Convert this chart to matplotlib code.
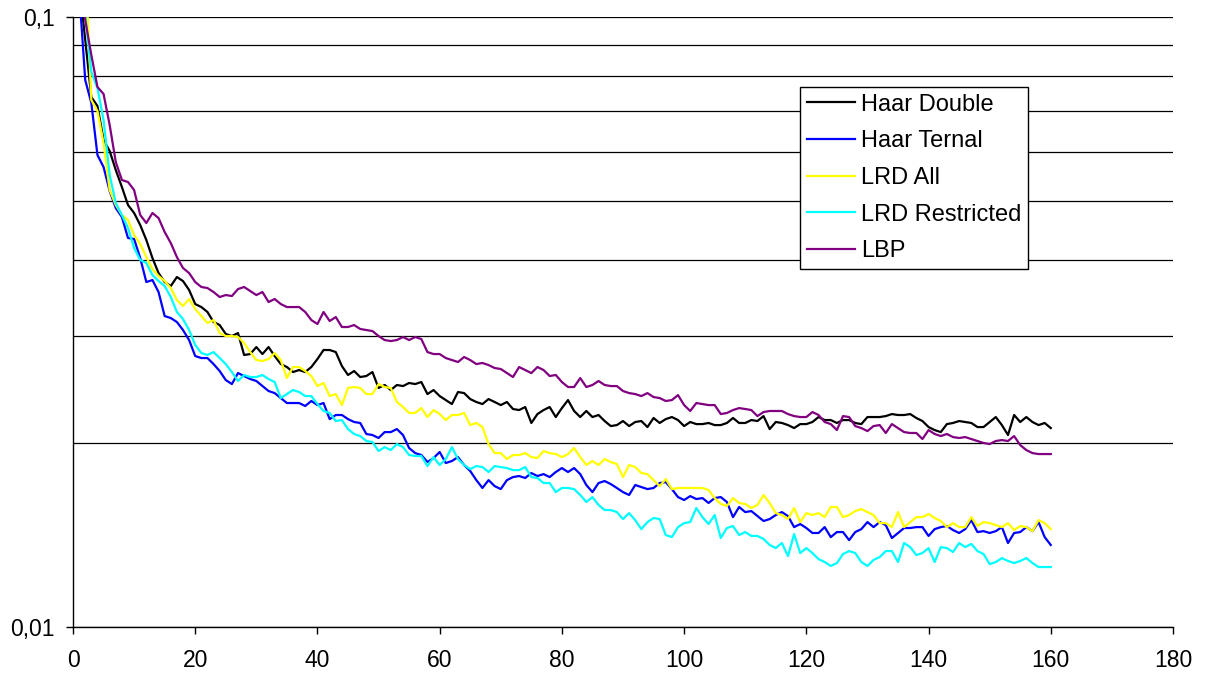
import numpy as np
import matplotlib
matplotlib.use("Agg")
import matplotlib.pyplot as plt
from matplotlib.ticker import FixedLocator, FixedFormatter, LogLocator, NullFormatter

plt.rcParams["font.family"] = ["Liberation Sans", "DejaVu Sans"]

steps = np.arange(1, 161)

haar_double = [
    0.1137, 0.09168, 0.07393, 0.07146, 0.06286, 0.06030, 0.05612, 0.05264, 0.04918, 0.04772,
    0.04560, 0.04309, 0.04026, 0.03804, 0.03677, 0.03622, 0.03747, 0.03691, 0.03568, 0.03384,
    0.03346, 0.03284, 0.03162, 0.03126, 0.03022, 0.02999, 0.03033, 0.02792, 0.02802, 0.02877,
    0.02802, 0.02877, 0.02781, 0.02698, 0.02668, 0.02618, 0.02638, 0.02618, 0.02668, 0.02750,
    0.02845, 0.02845, 0.02823, 0.02678, 0.02589, 0.02628, 0.02569, 0.02579, 0.02618, 0.02465,
    0.02493, 0.02446, 0.02493, 0.02483, 0.02512, 0.02502, 0.02521, 0.02409, 0.02446, 0.02391,
    0.02355, 0.02320, 0.02428, 0.02418, 0.02364, 0.02338, 0.02320, 0.02364, 0.02338, 0.02311,
    0.02338, 0.02277, 0.02268, 0.02294, 0.02160, 0.02234, 0.02268, 0.02294, 0.02209, 0.02285,
    0.02355, 0.02260, 0.02209, 0.02260, 0.02209, 0.02226, 0.02176, 0.02135, 0.02143, 0.02176,
    0.02135, 0.02168, 0.02176, 0.02127, 0.02201, 0.02160, 0.02192, 0.02209, 0.02184, 0.02135,
    0.02168, 0.02151, 0.02151, 0.02160, 0.02143, 0.02143, 0.02160, 0.02201, 0.02160, 0.02160,
    0.02184, 0.02176, 0.02217, 0.02111, 0.02168, 0.02160, 0.02143, 0.02119, 0.02151, 0.02151,
    0.02168, 0.02209, 0.02184, 0.02184, 0.02160, 0.02184, 0.02184, 0.02160, 0.02151, 0.02209,
    0.02209, 0.02209, 0.02217, 0.02234, 0.02226, 0.02226, 0.02234, 0.02201, 0.02176, 0.02127,
    0.02103, 0.02087, 0.02151, 0.02160, 0.02176, 0.02168, 0.02160, 0.02127, 0.02127, 0.02168,
    0.02209, 0.02143, 0.02064, 0.02226, 0.02168, 0.02209, 0.02168, 0.02143, 0.02160, 0.02119,
]

haar_ternal = [
    0.1107, 0.07883, 0.07228, 0.05940, 0.05676, 0.05185, 0.04862, 0.04700, 0.04342, 0.04326,
    0.04026, 0.03677, 0.03705, 0.03541, 0.03234, 0.03210, 0.03162, 0.03068, 0.02954, 0.02781,
    0.02760, 0.02760, 0.02698, 0.02628, 0.02540, 0.02502, 0.02608, 0.02579, 0.02550, 0.02531,
    0.02483, 0.02437, 0.02418, 0.02373, 0.02329, 0.02329, 0.02329, 0.02303, 0.02347, 0.02311,
    0.02329, 0.02192, 0.02226, 0.02226, 0.02192, 0.02168, 0.02160, 0.02072, 0.02064, 0.02041,
    0.02087, 0.02087, 0.02111, 0.02064, 0.01965, 0.01928, 0.01914, 0.01864, 0.01892, 0.01936,
    0.01857, 0.01871, 0.01899, 0.01843, 0.01802, 0.01741, 0.01690, 0.01741, 0.01702, 0.01683,
    0.01741, 0.01761, 0.01768, 0.01755, 0.01788, 0.01768, 0.01781, 0.01761, 0.01795, 0.01822,
    0.01795, 0.01822, 0.01781, 0.01709, 0.01664, 0.01722, 0.01735, 0.01715, 0.01690, 0.01664,
    0.01646, 0.01709, 0.01696, 0.01683, 0.01690, 0.01722, 0.01728, 0.01683, 0.01633, 0.01615,
    0.01639, 0.01621, 0.01627, 0.01597, 0.01627, 0.01633, 0.01603, 0.01514, 0.01573, 0.01543,
    0.01549, 0.01520, 0.01492, 0.01503, 0.01526, 0.01543, 0.01520, 0.01458, 0.01475, 0.01453,
    0.01426, 0.01426, 0.01458, 0.01404, 0.01431, 0.01431, 0.01388, 0.01431, 0.01447, 0.01486,
    0.01458, 0.01486, 0.01469, 0.01399, 0.01426, 0.01453, 0.01453, 0.01458, 0.01458, 0.01410,
    0.01447, 0.01458, 0.01464, 0.01442, 0.01426, 0.01447, 0.01497, 0.01431, 0.01436, 0.01426,
    0.01436, 0.01458, 0.01373, 0.01426, 0.01431, 0.01458, 0.01436, 0.01486, 0.01404, 0.01363,
]

lrd_all = [
    0.1677, 0.1240, 0.07309, 0.07013, 0.06215, 0.05204, 0.04918, 0.04736, 0.04647, 0.04391,
    0.04245, 0.04041, 0.03862, 0.03762, 0.03691, 0.03595, 0.03436, 0.03359, 0.03449, 0.03321,
    0.03234, 0.03150, 0.03186, 0.03033, 0.02999, 0.02999, 0.02988, 0.02921, 0.02823, 0.02739,
    0.02729, 0.02750, 0.02813, 0.02739, 0.02559, 0.02668, 0.02668, 0.02628, 0.02579, 0.02483,
    0.02512, 0.02391, 0.02409, 0.02311, 0.02465, 0.02474, 0.02465, 0.02409, 0.02409, 0.02502,
    0.02474, 0.02465, 0.02338, 0.02294, 0.02243, 0.02243, 0.02285, 0.02209, 0.02268, 0.02234,
    0.02184, 0.02226, 0.02226, 0.02243, 0.02143, 0.02160, 0.02127, 0.01995, 0.01928, 0.01928,
    0.01885, 0.01914, 0.01914, 0.01928, 0.01899, 0.01892, 0.01943, 0.01928, 0.01921, 0.01899,
    0.01921, 0.01965, 0.01899, 0.01843, 0.01871, 0.01843, 0.01885, 0.01864, 0.01850, 0.01761,
    0.01843, 0.01829, 0.01788, 0.01781, 0.01741, 0.01702, 0.01748, 0.01683, 0.01690, 0.01690,
    0.01690, 0.01690, 0.01690, 0.01677, 0.01627, 0.01591, 0.01579, 0.01627, 0.01597, 0.01591,
    0.01567, 0.01585, 0.01646, 0.01597, 0.01537, 0.01526, 0.01503, 0.01567, 0.01486, 0.01537,
    0.01526, 0.01537, 0.01514, 0.01573, 0.01573, 0.01514, 0.01526, 0.01549, 0.01561, 0.01543,
    0.01526, 0.01480, 0.01480, 0.01458, 0.01543, 0.01458, 0.01486, 0.01514, 0.01514, 0.01532,
    0.01509, 0.01492, 0.01458, 0.01480, 0.01458, 0.01458, 0.01514, 0.01464, 0.01486, 0.01480,
    0.01469, 0.01458, 0.01480, 0.01442, 0.01464, 0.01458, 0.01436, 0.01497, 0.01480, 0.01447,
]

lrd_restricted = [
    0.1337, 0.1008, 0.08125, 0.07649, 0.06778, 0.05508, 0.04955, 0.04736, 0.04509, 0.04181,
    0.03996, 0.03951, 0.03776, 0.03691, 0.03622, 0.03475, 0.03284, 0.03198, 0.03068, 0.02899,
    0.02813, 0.02792, 0.02823, 0.02760, 0.02698, 0.02618, 0.02531, 0.02589, 0.02569, 0.02569,
    0.02589, 0.02550, 0.02521, 0.02373, 0.02409, 0.02446, 0.02428, 0.02391, 0.02391, 0.02320,
    0.02260, 0.02243, 0.02176, 0.02184, 0.02111, 0.02072, 0.02056, 0.02018, 0.02010, 0.01943,
    0.01972, 0.01950, 0.01995, 0.01972, 0.01914, 0.01907, 0.01907, 0.01836, 0.01899, 0.01843,
    0.01885, 0.01972, 0.01885, 0.01843, 0.01815, 0.01836, 0.01829, 0.01795, 0.01836, 0.01829,
    0.01822, 0.01808, 0.01808, 0.01829, 0.01761, 0.01755, 0.01722, 0.01722, 0.01664, 0.01690,
    0.01690, 0.01683, 0.01646, 0.01603, 0.01633, 0.01585, 0.01555, 0.01555, 0.01543, 0.01503,
    0.01537, 0.01497, 0.01447, 0.01486, 0.01509, 0.01503, 0.01415, 0.01404, 0.01458, 0.01480,
    0.01486, 0.01567, 0.01514, 0.01475, 0.01526, 0.01399, 0.01453, 0.01464, 0.01415, 0.01431,
    0.01410, 0.01410, 0.01394, 0.01363, 0.01347, 0.01373, 0.01307, 0.01420, 0.01322, 0.01347,
    0.01322, 0.01292, 0.01278, 0.01259, 0.01273, 0.01317, 0.01332, 0.01322, 0.01278, 0.01259,
    0.01288, 0.01302, 0.01332, 0.01332, 0.01278, 0.01373, 0.01352, 0.01312, 0.01322, 0.01347,
    0.01278, 0.01352, 0.01347, 0.01327, 0.01373, 0.01352, 0.01368, 0.01332, 0.01317, 0.01268,
    0.01278, 0.01297, 0.01283, 0.01273, 0.01283, 0.01297, 0.01273, 0.01254, 0.01254, 0.01254,
]

lbp = [
    0.1150, 0.0989, 0.08664, 0.07678, 0.07478, 0.06652, 0.05785, 0.05405, 0.05364, 0.05204,
    0.04736, 0.04595, 0.04772, 0.04682, 0.04441, 0.04261, 0.04041, 0.03877, 0.03804, 0.03677,
    0.03609, 0.03595, 0.03541, 0.03475, 0.03501, 0.03488, 0.03581, 0.03609, 0.03555, 0.03501,
    0.03541, 0.03410, 0.03449, 0.03384, 0.03346, 0.03346, 0.03346, 0.03284, 0.03186, 0.03138,
    0.03284, 0.03174, 0.03222, 0.03103, 0.03103, 0.03126, 0.03080, 0.03068, 0.03056, 0.02999,
    0.02954, 0.02943, 0.02954, 0.02988, 0.02954, 0.02988, 0.02965, 0.02823, 0.02802, 0.02802,
    0.02760, 0.02739, 0.02719, 0.02771, 0.02739, 0.02698, 0.02709, 0.02688, 0.02658, 0.02648,
    0.02608, 0.02569, 0.02668, 0.02638, 0.02608, 0.02668, 0.02638, 0.02579, 0.02589, 0.02521,
    0.02474, 0.02474, 0.02559, 0.02474, 0.02493, 0.02531, 0.02493, 0.02483, 0.02483, 0.02437,
    0.02418, 0.02409, 0.02391, 0.02418, 0.02382, 0.02373, 0.02347, 0.02355, 0.02400, 0.02311,
    0.02260, 0.02329, 0.02320, 0.02311, 0.02311, 0.02234, 0.02243, 0.02268, 0.02285, 0.02277,
    0.02268, 0.02217, 0.02251, 0.02260, 0.02260, 0.02260, 0.02234, 0.02217, 0.02209, 0.02209,
    0.02251, 0.02226, 0.02168, 0.02151, 0.02103, 0.02217, 0.02209, 0.02135, 0.02119, 0.02095,
    0.02135, 0.02143, 0.02080, 0.02151, 0.02119, 0.02087, 0.02080, 0.02080, 0.02033, 0.02103,
    0.02072, 0.02056, 0.02072, 0.02048, 0.02041, 0.02048, 0.02033, 0.02018, 0.02003, 0.01995,
    0.02018, 0.02025, 0.02018, 0.02056, 0.01987, 0.01950, 0.01928, 0.01921, 0.01921, 0.01921,
]

series = [
    ("Haar Double", haar_double, "#000000"),
    ("Haar Ternal", haar_ternal, "#0000FF"),
    ("LRD All", lrd_all, "#FFFF00"),
    ("LRD Restricted", lrd_restricted, "#00FFFF"),
    ("LBP", lbp, "#800080"),
]

fig = plt.figure(figsize=(12.06, 6.74), dpi=100)
ax = fig.add_axes([73 / 1206, 1 - 627 / 674, 1100 / 1206, 610 / 674])

for name, values, color in series:
    ax.plot(steps, values, color=color, lw=1.6, label=name)

ax.set_yscale("log")
ax.set_xlim(0, 180)
ax.set_ylim(0.01, 0.1)

ax.set_xticks(np.arange(0, 181, 20))
ax.yaxis.set_major_locator(FixedLocator([0.01, 0.1]))
ax.yaxis.set_major_formatter(FixedFormatter(["0,01", "0,1"]))
ax.yaxis.set_minor_locator(LogLocator(base=10, subs=np.arange(2, 10)))
ax.yaxis.set_minor_formatter(NullFormatter())

ax.grid(True, axis="y", which="both", color="#000000", lw=0.9)
ax.set_axisbelow(True)

ax.tick_params(axis="x", which="major", direction="out", length=5, width=1,
               labelsize=16.5, pad=11)
ax.tick_params(axis="y", which="major", direction="out", length=5, width=1,
               labelsize=16.5, pad=8)
ax.tick_params(axis="y", which="minor", length=0)

ax.spines["right"].set_visible(False)
ax.spines["top"].set_visible(False)
for side in ("left", "bottom"):
    ax.spines[side].set_color("#000000")
    ax.spines[side].set_linewidth(1)

leg = ax.legend(loc="upper left", bbox_to_anchor=(800 / 1206, 1 - 87 / 674),
                bbox_transform=fig.transFigure, fontsize=17, frameon=True,
                fancybox=False, framealpha=1, edgecolor="#000000",
                borderaxespad=0, borderpad=0.28, handlelength=2.05,
                handletextpad=0.25, labelspacing=0.62)
leg.get_frame().set_linewidth(1)
for line in leg.get_lines():
    line.set_linewidth(1.6)

fig.savefig("out.png", dpi=100)
